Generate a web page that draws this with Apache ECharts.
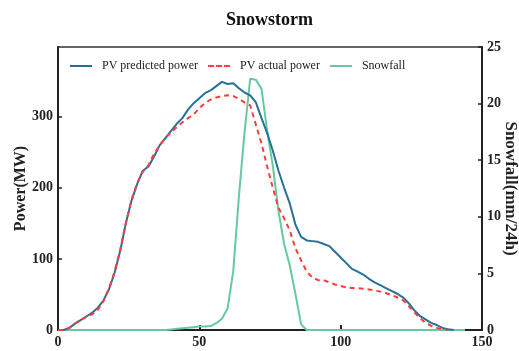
<!DOCTYPE html>
<html>
<head>
<meta charset="utf-8">
<script src="https://cdn.jsdelivr.net/npm/echarts@6/dist/echarts.min.js"></script>
<style>html,body{margin:0;padding:0;background:#fff;}#c{width:519px;height:351px;}</style>
</head>
<body>
<div id="c"></div>
<script>
var xs = [0,2,4,6,8,10,12,14,16,18,20,22,24,26,28,30,32,34,36,38,40,42,44,46,48,50,52,54,56,58,60,62,64,66,68,70,72,74,76,78,80,82,84,86,88,90,92,94,96,98,100,102,104,106,108,110,112,114,116,118,120,122,124,126,128,130,132,134,136,138,140,142,144];
var predicted = [0,0,3,9,14,19,24,31,41,57,80,111,150,182,205,224,230,244,260,270,280,290,298,310,319,326,333,337,343,349,346,347,340,334,330,320,298,277,252,224,200,178,148,131,126,125,124,121,118,110,102,94,86,82,78,72,67,63,59,55,51,46,38,28,20,15,10,7,3,1,0,null,null];
var actual = [0,0,3,9,14,18,22,28,40,58,82,113,150,183,207,222,232,248,260,270,278,285,292,298,303,312,319,324,327,329,330,329,325,320,316,289,262,230,200,172,157,140,115,98,82,74,70,70,67,64,62,60,59,59,58,57,56,54,52,49,46,42,34,25,17,10,6,3,1,0,null,null,null];
var snowfall = [0,0,0,0,0,0,0,0,0,0,0,0,0,0,0,0,0,0,0,0,0.05,0.1,0.15,0.2,0.25,0.3,0.3,0.35,0.6,1.0,1.9,5.2,11.8,17.5,22.2,22.1,21.3,17.6,14.5,10.5,7.6,5.7,3.2,0.5,0,0,0,0,0,0,0,0,0,0,0,0,0,0,0,0,0,0,0,0,0,0,0,0,0,0,0,0,0];
var powerTicks = [0,100,200,300];
var xTicks = [0,50,100,150];
var snowTicks = [0,5,10,15,20,25];

function pairs(v){ var out=[]; for(var i=0;i<xs.length;i++){ if(v[i]!==null) out.push([xs[i], v[i]]); } return out; }

var serif = '"Liberation Serif","DejaVu Serif",serif';
var chart = echarts.init(document.getElementById('c'));
var labelStyle = {fontFamily: serif, fontWeight: 'bold', fontSize: 14, color: '#222'};
var BLUE = '#27709a', RED = '#ff3d3d', GREEN = '#66c9a0';
chart.setOption({
  animation: false,
  title: {text: 'Snowstorm', left: 221, top: 6, textStyle: {fontFamily: serif, fontWeight: 'bold', fontSize: 18, color: '#111'}},
  grid: {left: 58, right: 37, top: 47, bottom: 21, show: true, borderColor: '#333', borderWidth: 1.5, containLabel: false, outerBoundsMode: 'none'},
  legend: {
    top: 55, left: 65, itemWidth: 22, itemHeight: 2, itemGap: 10,
    textStyle: {fontFamily: serif, fontSize: 12, color: '#222', padding: [0, 0, 0, 5]},
    data: [
      {name: 'PV predicted power', icon: 'path://M0,0h22v2h-22z', itemStyle: {color: BLUE}},
      {name: 'PV actual power', icon: 'path://M0,0h6v2h-6zM8,0h6v2h-6zM16,0h6v2h-6z', itemStyle: {color: RED}},
      {name: 'Snowfall', icon: 'path://M0,0h22v2h-22z', itemStyle: {color: GREEN}}
    ]
  },
  xAxis: {
    type: 'value', min: 0, max: 150, interval: 50,
    axisLine: {show: true, lineStyle: {color: '#222', width: 2}},
    axisTick: {show: true, inside: true, length: 5, lineStyle: {color: '#222', width: 2}, customValues: xTicks},
    axisLabel: Object.assign({margin: 5, customValues: xTicks}, labelStyle),
    splitLine: {show: false}
  },
  yAxis: [{
    type: 'value', min: 0, max: 398, position: 'left',
    name: 'Power(MW)', nameLocation: 'middle', nameGap: 29, nameRotate: 90, nameMoveOverlap: false,
    nameTextStyle: {fontFamily: serif, fontWeight: 'bold', fontSize: 16, color: '#222'},
    axisLine: {show: true, lineStyle: {color: '#222', width: 2}},
    axisTick: {show: true, inside: true, length: 4, lineStyle: {color: '#222', width: 1.5}, customValues: powerTicks},
    axisLabel: Object.assign({margin: 5, customValues: powerTicks}, labelStyle),
    splitLine: {show: false}
  }, {
    type: 'value', min: 0, max: 25, interval: 5, position: 'right',
    name: 'Snowfall(mm/24h)', nameLocation: 'middle', nameGap: 20, nameRotate: -90, nameMoveOverlap: false,
    nameTextStyle: {fontFamily: serif, fontWeight: 'bold', fontSize: 17, color: '#222'},
    axisLine: {show: true, lineStyle: {color: '#222', width: 2}},
    axisTick: {show: true, inside: true, length: 4, lineStyle: {color: '#222', width: 1.5}, customValues: snowTicks},
    axisLabel: Object.assign({margin: 5, customValues: snowTicks}, labelStyle),
    splitLine: {show: false}
  }],
  series: [{
    name: 'PV predicted power', type: 'line', yAxisIndex: 0, showSymbol: false, symbol: 'none',
    data: pairs(predicted), lineStyle: {color: BLUE, width: 2}, itemStyle: {color: BLUE}, z: 3
  }, {
    name: 'PV actual power', type: 'line', yAxisIndex: 0, showSymbol: false, symbol: 'none',
    data: pairs(actual), lineStyle: {color: RED, width: 2, type: [5, 4]}, itemStyle: {color: RED}, z: 4
  }, {
    name: 'Snowfall', type: 'line', yAxisIndex: 1, showSymbol: false, symbol: 'none',
    data: pairs(snowfall), lineStyle: {color: GREEN, width: 2}, itemStyle: {color: GREEN}, z: 2
  }]
});
</script>
</body>
</html>
